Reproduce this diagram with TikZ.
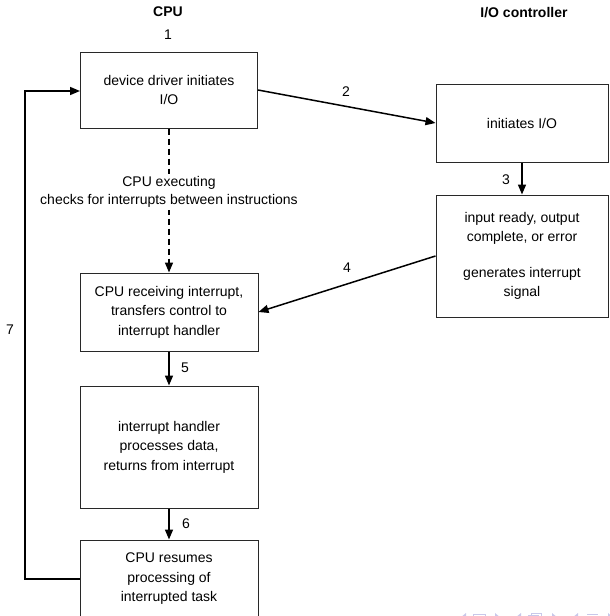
\documentclass[tikz,border=0pt]{standalone}
\usepackage{fontspec}
\setmainfont{Liberation Sans}
\usetikzlibrary{arrows.meta}
\definecolor{navcol}{RGB}{200,200,234}
\definecolor{boxline}{RGB}{40,40,40}
\begin{document}
\begin{tikzpicture}[x=1pt,y=-1pt,
  box/.style={draw=boxline, line width=1pt, align=center, inner sep=0pt,
    font=\fontsize{14}{19.5}\selectfont},
  conn/.style={line width=1.5pt, -{Triangle[length=10pt,width=8pt]}},
  lbl/.style={font=\fontsize{14}{16}\selectfont, inner sep=0pt},
  head/.style={font=\bfseries\fontsize{14}{16}\selectfont, inner sep=0pt}]
\useasboundingbox (0,0) rectangle (610,616);
\clip (0,0) rectangle (610,616);

% headings
\node[head] (hcpu) at (168,12) {CPU};
\node[head] (hio) at (524,13) {I/O controller};

% boxes
\node[box, minimum width=177pt, minimum height=76pt] (b1) at (169,90) {device driver initiates\\I/O};
\node[box, minimum width=172pt, minimum height=78pt] (b2) at (522,123) {initiates I/O};
\node[box, minimum width=172pt, minimum height=122pt] (b3) at (522,256) {input ready, output\\complete, or error\\[16pt]generates interrupt\\signal};
\node[box, minimum width=178pt, minimum height=78pt] (b4) at (169,312) {CPU receiving interrupt,\\transfers control to\\interrupt handler};
\node[box, minimum width=178pt, minimum height=122pt] (b5) at (169,447) {interrupt handler\\processes data,\\returns from interrupt};
\node[box, minimum width=178pt, minimum height=78pt] (b6) at (169,579) {CPU resumes\\processing of\\interrupted task};

% connectors
\draw[conn] (b1.east) -- (b2.west);
\draw[conn] (b2.south) -- (b3.north);
\draw[conn] (b3.west) -- (b4.east);
\draw[conn, dash pattern=on 6pt off 4pt] (b1.south) -- (b4.north);
\node[box, draw=none, fill=white, inner sep=2pt, font=\fontsize{14}{18.5}\selectfont] (exec) at (169,192) {CPU executing\\checks for interrupts between instructions};
\draw[conn] (b4.south) -- (b5.north);
\draw[conn] (b5.south) -- (b6.north);
\coordinate (lb) at (25,579);
\coordinate (lt) at (25,91);
\draw[conn] (b6.west) -- (lb) -- (lt) -- (b1.west |- lt);

% labels
\node[lbl] (l1) at (168,35) {1};
\node[lbl] (l2) at (346,92) {2};
\node[lbl] (l3) at (506,180) {3};
\node[lbl] (l4) at (347,268) {4};
\node[lbl] (l5) at (185,368) {5};
\node[lbl] (l6) at (186,524) {6};
\node[lbl] (l7) at (10,330) {7};

% beamer navigation symbols (partly visible)
\begin{scope}[fill=navcol, draw=navcol, line width=0.8pt]
  \fill (466,613) -- (460,618) -- (466,623) -- cycle;
  \draw (473,614) rectangle (485,621);
  \fill (495,613) -- (501,618) -- (495,623) -- cycle;
  \fill (521,613) -- (515,618) -- (521,623) -- cycle;
  \draw (531,613) rectangle (541,621);
  \draw (528,615.5) rectangle (538,623);
  \fill (552,613) -- (558,618) -- (552,623) -- cycle;
  \fill (578,613) -- (572,618) -- (578,623) -- cycle;
  \draw (587,614) -- (598,614);
  \fill (608,613) -- (614,618) -- (608,623) -- cycle;
\end{scope}
\end{tikzpicture}
\end{document}
